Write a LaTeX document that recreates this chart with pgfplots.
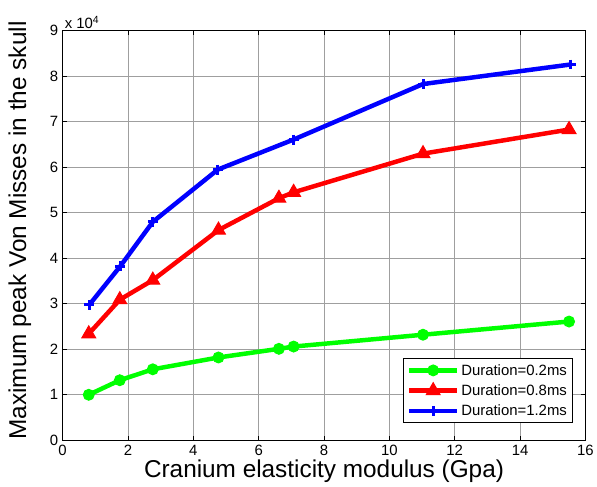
\documentclass[border=0pt]{standalone}
\usepackage{pgfplots}
\pgfplotsset{compat=1.18}
\usepackage{fontspec}
\setmainfont{Liberation Sans}
\definecolor{mgreen}{RGB}{0,255,0}
\definecolor{mred}{RGB}{255,0,0}
\definecolor{mblue}{RGB}{0,0,255}
\begin{document}
\begin{tikzpicture}
\begin{axis}[
 name=ax,
 scale only axis, width=526pt, height=412pt,
 xmin=0, xmax=16, ymin=0, ymax=9,
 xtick={0,2,...,16}, ytick={0,1,...,9},
 grid=major, major grid style={gray!75, line width=0.7pt},
 tick align=inside, tick style={black, line width=0.7pt}, major tick length=4pt,
 axis line style={black, line width=1.2pt},
 /pgf/number format/assume math mode=true,
 xticklabel style={font=\fontsize{15}{15}\selectfont, yshift=-1pt},
 yticklabel style={font=\fontsize{15}{15}\selectfont, xshift=-1pt},
 xlabel={Cranium elasticity modulus (Gpa)},
 ylabel={Maximum peak Von Misses in the skull},
 label style={font=\fontsize{24.5}{24.5}\selectfont},
 xlabel style={yshift=2pt},
 ylabel style={yshift=12pt, xshift=5pt},
 legend style={at={(rel axis cs:0.977,0.041)}, anchor=south east,
   draw=black, line width=1pt, font=\fontsize{15}{15}\selectfont,
   row sep=4pt, inner sep=4pt},
 legend cell align=left,
 legend image code/.code={\draw[mark repeat=2,mark phase=2,#1] plot coordinates {(0pt,0pt)(24pt,0pt)(48pt,0pt)};},
]
\addplot[mgreen, line width=4.5pt, mark=*, mark size=5.5pt, mark options={solid, line width=1pt}] coordinates {
 (0.8,1.00) (1.75,1.32) (2.76,1.56) (4.77,1.82) (6.62,2.01) (7.07,2.06) (11.03,2.32) (15.5,2.61)};
\addlegendentry{Duration=0.2ms}
\addplot[mred, line width=4.5pt, mark=triangle*, mark size=8pt, mark options={solid, line width=1pt}] coordinates {
 (0.8,2.34) (1.75,3.09) (2.76,3.52) (4.77,4.62) (6.62,5.32) (7.07,5.45) (11.03,6.30) (15.5,6.83)};
\addlegendentry{Duration=0.8ms}
\addplot[mblue, line width=4.5pt, mark=+, mark size=5pt, mark options={solid, line width=3pt}] coordinates {
 (0.82,2.98) (1.77,3.83) (2.76,4.80) (4.75,5.95) (7.07,6.61) (11.03,7.83) (15.55,8.26)};
\addlegendentry{Duration=1.2ms}
\end{axis}
\node[anchor=south west, font=\fontsize{15}{15}\selectfont, inner sep=2pt] at (ax.north west) {x 10\textsuperscript{4}};
\path (ax.north west) ++(0,31pt);
\path (ax.south west) ++(-63pt,0);
\end{tikzpicture}
\end{document}
